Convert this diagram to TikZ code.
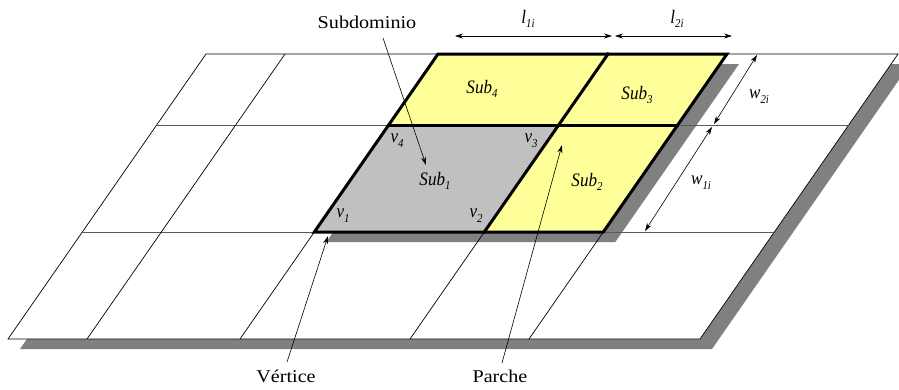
\documentclass[tikz,border=0pt]{standalone}
\usepackage{fontspec}
\setmainfont{Liberation Serif}
\newfontfamily\labfont[FakeStretch=1.12]{Liberation Serif}
\newfontfamily\itfont[ItalicFeatures={FakeStretch=0.9}]{Liberation Serif}
\usetikzlibrary{arrows.meta}
\definecolor{patchyellow}{RGB}{255,255,153}
\definecolor{patchgray}{RGB}{192,192,192}
\newcommand{\sbx}[2]{#1\raisebox{-0.55ex}{\fontsize{12}{12}\selectfont #2}}
\begin{document}
\begin{tikzpicture}[x=1pt,y=-1pt,
  thingrid/.style={line width=0.7pt, black},
  hgrid/.style={line width=0.9pt, black!65},
  bord/.style={line width=3pt, line join=miter, line cap=rect},
  shadowfill/.style={fill=black!50, draw=none},
  arr/.style={-{Stealth[length=8pt,width=5pt]}, line width=0.6pt},
  dimarr/.style={{Stealth[length=8pt,width=5pt]}-{Stealth[length=8pt,width=5pt]}, line width=0.6pt},
  txt/.style={font=\labfont\fontsize{18}{18}\selectfont, anchor=base},
  mlab/.style={font=\itfont\itshape\fontsize{19}{19}\selectfont, inner sep=0pt},
  vlab/.style={font=\itfont\itshape\fontsize{19}{19}\selectfont, inner sep=0pt}]
\useasboundingbox (0,0) rectangle (899,389);
% big plane shadow and plane
\fill[shadowfill] (20,349) -- (712,349) -- (910,64) -- (218,64) -- cycle;
\draw[thingrid, fill=white] (8,339) -- (700,339) -- (898,54) -- (206,54) -- cycle;
% subdomain shadow
\fill[shadowfill] (326.3,242) -- (615.3,242) -- (739,64) -- (450,64) -- cycle;
% grid lines
\draw[hgrid] (156.7,125) -- (848.7,125);
\draw[hgrid] (82.3,232) -- (774.3,232);
\foreach \xb in {87,240,410,529} \draw[thingrid] (\xb,339) -- (\xb+198,54);
% subdomains
\fill[patchgray] (314.3,232) -- (484.3,232) -- (558.7,125) -- (388.7,125) -- cycle;
\fill[patchyellow] (484.3,232) -- (603.3,232) -- (677.7,125) -- (558.7,125) -- cycle;
\fill[patchyellow] (558.7,125) -- (677.7,125) -- (727,54) -- (608,54) -- cycle;
\fill[patchyellow] (388.7,125) -- (558.7,125) -- (608,54) -- (438,54) -- cycle;
\draw[bord] (314.3,232) -- (603.3,232) -- (727,54) -- (438,54) -- cycle;
\draw[bord] (388.7,125) -- (677.7,125);
\draw[bord] (484.3,232) -- (608,54);
% labels in patches
\node[mlab] (s4) at (482,89) {\sbx{Sub}{4}};
\node[mlab] (s3) at (637,95) {\sbx{Sub}{3}};
\node[mlab] (s2) at (587,182) {\sbx{Sub}{2}};
\node[mlab] (s1) at (435,181) {\sbx{Sub}{1}};
\node[vlab] (v4) at (397,141) {\sbx{v}{4}};
\node[vlab] (v3) at (531,141) {\sbx{v}{3}};
\node[vlab] (v1) at (343,216) {\sbx{v}{1}};
\node[vlab] (v2) at (476,216) {\sbx{v}{2}};
% dimensions
\coordinate (la) at (455,36);
\coordinate (lb) at (612,36);
\coordinate (lc) at (615,36);
\coordinate (ld) at (732,36);
\draw[dimarr] (la) -- (lb);
\draw[dimarr] (lc) -- (ld);
\node[mlab] (l1) at (528,19) {\sbx{l}{1i}};
\node[mlab] (l2) at (677,19) {\sbx{l}{2i}};
\coordinate (wa) at (757,55);
\coordinate (wb) at (714,124);
\coordinate (wc) at (712,127);
\coordinate (wd) at (645,231);
\draw[dimarr] (wa) -- (wb);
\draw[dimarr] (wc) -- (wd);
\node[mlab] (w2) at (759,97) {\sbx{w}{2i}};
\node[mlab] (w1) at (701,183) {\sbx{w}{1i}};
% callouts
\node[txt] (subd) at (367,28) {Subdominio};
\node[txt] (vert) at (286,382) {Vértice};
\node[txt] (parc) at (500,382) {Parche};
\coordinate (tsub) at (426,165);
\coordinate (tver) at (328,236);
\coordinate (tpar) at (562,145);
\coordinate (ssub) at (383,38);
\coordinate (sver) at (287,362);
\coordinate (spar) at (502,363);
\draw[arr] (ssub) -- (tsub);
\draw[arr] (sver) -- (tver);
\draw[arr] (spar) -- (tpar);
\end{tikzpicture}
\end{document}
